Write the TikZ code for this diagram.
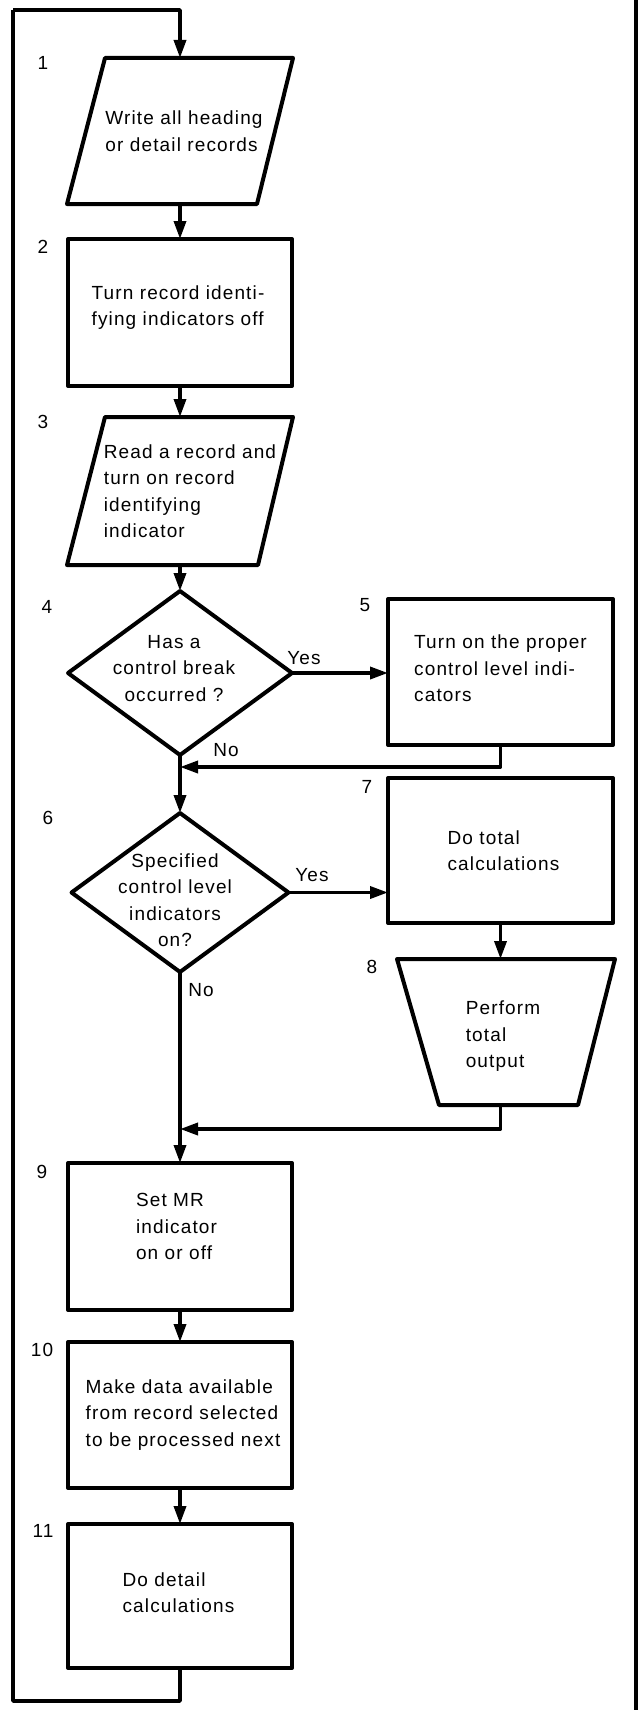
\documentclass[tikz,border=0pt]{standalone}
\usepackage{fontspec}
\setmainfont{Liberation Sans}[LetterSpace=6]
\usetikzlibrary{arrows.meta,shapes.geometric}
\begin{document}
\begin{tikzpicture}[x=1pt,y=-1pt,
  font=\fontsize{19}{26.5}\selectfont,
  line join=round,
  boxshape/.style={draw, line width=4pt, inner sep=0pt, outer sep=0pt},
  slot/.style={inner sep=0pt, outer sep=0pt},
  outline/.style={line width=4pt},
  conn/.style={line width=3.5pt},
  arr/.style={conn, -{Triangle[length=18pt,width=12pt]}},
  txt/.style={align=left, inner sep=0pt},
  mid/.style={align=center, inner sep=0pt},
  num/.style={inner sep=0pt},
  lbl/.style={inner sep=0pt}]
\useasboundingbox (0,0) rectangle (642,1710);

% 1 parallelogram
\node[slot, minimum width=226pt, minimum height=146pt,
  label={[txt,xshift=4pt]center:Write all heading\\or detail records}] (b1) at (180,131) {};
\draw[outline] ([xshift=38pt]b1.north west) -- (b1.north east) -- ([xshift=-36pt]b1.south east) -- (b1.south west) -- cycle;

% 2
\node[boxshape, minimum width=224pt, minimum height=147pt,
  label={[txt,xshift=-2pt,yshift=5pt]center:Turn record identi-\\fying indicators off}] (b2) at (180,312.5) {};

% 3 parallelogram
\node[slot, minimum width=226pt, minimum height=148pt,
  label={[txt,xshift=10pt]center:Read a record and\\turn on record\\identifying\\indicator}] (b3) at (180,491) {};
\draw[outline] ([xshift=38pt]b3.north west) -- (b3.north east) -- ([xshift=-35pt]b3.south east) -- (b3.south west) -- cycle;

% 4 diamond
\node[diamond, boxshape, minimum width=224pt, minimum height=164pt,
  label={[mid,xshift=-6pt,yshift=4.5pt]center:Has a\\control break\\occurred ?}] (d4) at (180,673) {};

% 5
\node[boxshape, minimum width=225pt, minimum height=146pt,
  label={[txt,yshift=3.5pt]center:Turn on the proper\\control level indi-\\cators}] (b5) at (500.5,672) {};

% 6 diamond
\node[diamond, boxshape, minimum width=217pt, minimum height=159pt,
  label={[mid,xshift=-5pt,yshift=-7.5pt]center:Specified\\control level\\indicators\\on?}] (d6) at (180,892.5) {};

% 7
\node[boxshape, minimum width=225pt, minimum height=145pt,
  label={[txt,xshift=3pt]center:Do total\\calculations}] (b7) at (500.5,850.5) {};

% 8 trapezium
\node[slot, minimum width=218pt, minimum height=146pt,
  label={[txt,xshift=-3pt,yshift=-4.5pt]center:Perform\\total\\output}] (b8) at (506,1032) {};
\draw[outline] (b8.north west) -- (b8.north east) -- ([xshift=-37pt]b8.south east) -- ([xshift=42pt]b8.south west) -- cycle;

% 9
\node[boxshape, minimum width=224pt, minimum height=147pt,
  label={[txt,xshift=-3.5pt,yshift=10pt]center:Set MR\\indicator\\on or off}] (b9) at (180,1236.5) {};

% 10
\node[boxshape, minimum width=224pt, minimum height=146pt,
  label={[txt,xshift=3pt]center:Make data available\\from record selected\\to be processed next}] (b10) at (180,1415) {};

% 11
\node[boxshape, minimum width=224pt, minimum height=144pt,
  label={[txt,xshift=-1.5pt,yshift=3.5pt]center:Do detail\\calculations}] (b11) at (180,1596) {};

% step numbers
\node[num] (n1) at (43,63) {1};
\node[num] (n2) at (43,247) {2};
\node[num] (n3) at (43,422) {3};
\node[num] (n4) at (47,607) {4};
\node[num] (n5) at (365,605) {5};
\node[num] (n6) at (48,818) {6};
\node[num] (n7) at (367,787) {7};
\node[num] (n8) at (372,967) {8};
\node[num] (n9) at (42,1172) {9};
\node[num] (n10) at (42,1350) {10};
\node[num] (n11) at (43,1531) {11};

% branch labels
\node[lbl] (y4) at (304,658) {Yes};
\node[lbl] (no4) at (226,750) {No};
\node[lbl] (y6) at (312,875) {Yes};
\node[lbl] (no6) at (201,990) {No};

% coordinates
\coordinate (m1) at (180,767);
\coordinate (m2) at (180,1129);
\coordinate (lb) at (13,1701);
\coordinate (lt) at (13,10);
\coordinate (rt) at (636,0);
\coordinate (rb) at (636,1710);

% connectors
\draw[arr] (lt) -- (lt -| b1.north) -- (b1.north);
\draw[arr] (b1.south) -- (b2.north);
\draw[arr] (b2.south) -- (b3.north);
\draw[arr] (b3.south) -- (d4.north);
\draw[arr] (d4.east) -- (d4.east -| b5.west);
\draw[arr] (b5.south) |- (m1);
\draw[arr] (d4.south) -- (d6.north);
\draw[arr] (d6.east) -- (d6.east -| b7.west);
\draw[arr] (b7.south) -- (b7.south |- b8.north);
\draw[arr] (b8.south -| b7.south) |- (m2);
\draw[arr] (d6.south) -- (b9.north);
\draw[arr] (b9.south) -- (b10.north);
\draw[arr] (b10.south) -- (b11.north);
\draw[conn] (b11.south) -- (b11.south |- lb) -- (lb) -- (lt);
\draw[conn] (rt) -- (rb);
\end{tikzpicture}
\end{document}
